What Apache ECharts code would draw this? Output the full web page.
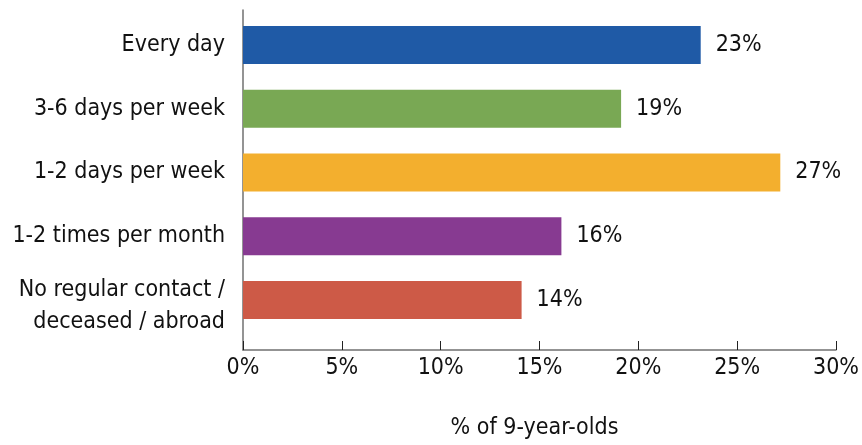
<!DOCTYPE html>
<html>
<head>
<meta charset="utf-8">
<script src="https://cdn.jsdelivr.net/npm/echarts@6/dist/echarts.min.js"></script>
<style>
html,body{margin:0;padding:0;background:#fff;}
#chart{width:862px;height:445px;}
</style>
</head>
<body>
<div id="chart"></div>
<script>
const categories = ['Every day', '3-6 days per week', '1-2 days per week', '1-2 times per month', 'No regular contact /\ndeceased / abroad'];
const values = [23, 19, 27, 16, 14];
const barColors = ['#1f5aa6', '#79a854', '#f3af2e', '#873a91', '#cd5a47'];
const axisTitle = '% of 9-year-olds';

const FONT = '"Liberation Sans Narrow", "DejaVu Sans Condensed", Arial, sans-serif';
const FS = 23;

const chart = echarts.init(document.getElementById('chart'), null, {renderer: 'canvas'});
chart.setOption({
  animation: false,
  backgroundColor: '#ffffff',
  textStyle: {fontFamily: FONT},
  grid: [
    {left: 243, width: 597, top: 13, height: 319, containLabel: false},
    {left: 243, width: 597, top: 10, height: 341, containLabel: false}
  ],
  xAxis: [
    {gridIndex: 0, type: 'value', min: 0, max: 30, show: false, splitLine: {show: false}},
    {
      gridIndex: 1, type: 'value', min: 0, max: 30, interval: 5,
      axisLine: {show: true, lineStyle: {color: '#707070', width: 1.5}},
      axisTick: {show: true, inside: true, length: 9, lineStyle: {color: '#222', width: 1}},
      axisLabel: {formatter: '{value}%', color: '#111', fontSize: FS, fontFamily: FONT, margin: 7},
      splitLine: {show: false},
      name: axisTitle, nameLocation: 'middle', nameGap: 67,
      nameTextStyle: {color: '#111', fontSize: FS, fontFamily: FONT, padding: [0, 10, 0, 0]}
    }
  ],
  yAxis: [
    {
      gridIndex: 0, type: 'category', inverse: true, data: categories,
      axisLine: {show: false}, axisTick: {show: false},
      axisLabel: {
        color: '#111', fontSize: FS, fontFamily: FONT, margin: 18, lineHeight: 32, align: 'right',
        formatter: function (v) {
          if (v.indexOf('\n') < 0) return v;
          return '{s| }\n' + v.split('\n').map(t => '{b|' + t + '}').join('\n');
        },
        rich: {
          s: {fontSize: 4, lineHeight: 12},
          b: {fontSize: FS, fontFamily: FONT, color: '#111', lineHeight: 32}
        }
      }
    },
    {
      gridIndex: 1, type: 'value', min: 0, max: 1,
      axisLine: {show: true, lineStyle: {color: '#707070', width: 1.5}},
      axisTick: {show: false}, axisLabel: {show: false}, splitLine: {show: false}
    }
  ],
  series: [{
    type: 'bar',
    xAxisIndex: 0, yAxisIndex: 0,
    barWidth: 38,
    data: values.map((v, i) => ({value: v, itemStyle: {color: barColors[i]}})),
    label: {
      show: true, position: 'right', distance: 15,
      formatter: '{c}%', color: '#111', fontSize: FS, fontFamily: FONT
    }
  }]
});
</script>
</body>
</html>
